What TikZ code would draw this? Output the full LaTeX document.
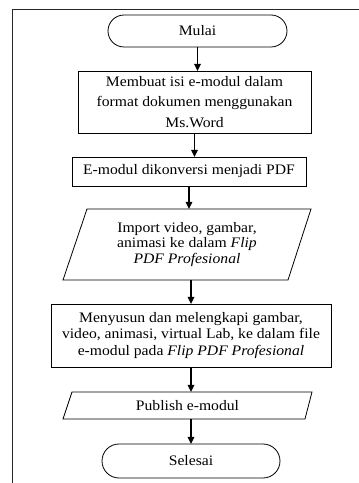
\documentclass[tikz,border=0pt]{standalone}
\usepackage{fontspec}
\setmainfont{Liberation Serif}[FakeStretch=1.08]
\usetikzlibrary{arrows.meta}
\begin{document}
\begin{tikzpicture}[x=1pt,y=1pt,
  txt/.style={inner sep=0pt, outer sep=0pt, align=center, font=\fontsize{14.5}{17}\selectfont},
  box/.style={txt, draw, line width=0.8pt},
  term/.style={box, rounded corners=16pt},
  para/.style={line width=0.8pt},
  arr/.style={line width=1.3pt, -{Triangle[length=7pt,width=6.5pt]}}]
\useasboundingbox (0,0) rectangle (359,483);
\draw[line width=0.9pt, black!85] (12,0) -- (12,474) -- (359,474);

\node[term, minimum width=179pt, minimum height=32pt] (start) at (197.5,452) {Mulai};
\node[box, minimum width=233pt, minimum height=62pt, font=\fontsize{14.5}{20.5}\selectfont] (b1) at (194.5,381)
  {Membuat isi e-modul dalam\\ format dokumen menggunakan\\ Ms.Word};
\node[box, minimum width=234pt, minimum height=29pt] (b2) at (189,311.5) {E-modul dikonversi menjadi PDF};
\node[txt, minimum width=248pt, minimum height=71pt, font=\fontsize{14.5}{15.5}\selectfont] (p1) at (187,238.5)
  {Import video, gambar,\\ animasi ke dalam \textit{Flip}\\ \textit{PDF Profesional}};
\draw[para] ([xshift=24pt]p1.north west) -- (p1.north east) -- ([xshift=-23pt]p1.south east) -- (p1.south west) -- cycle;
\node[box, minimum width=280pt, minimum height=63pt, font=\fontsize{14.5}{16.7}\selectfont] (b4) at (191,147.5)
  {Menyusun dan melengkapi gambar,\\ video, animasi, virtual Lab, ke dalam file\\ e-modul pada \textit{Flip PDF Profesional}};
\node[txt, minimum width=249pt, minimum height=27pt] (p2) at (187.5,77.5) {Publish e-modul};
\draw[para] ([xshift=9pt]p2.north west) -- (p2.north east) -- ([xshift=-7pt]p2.south east) -- (p2.south west) -- cycle;
\node[term, minimum width=178pt, minimum height=34pt, rounded corners=17pt] (stop) at (191,22) {Selesai};

\draw[arr] (start.south) -- (start.south |- b1.north);
\draw[arr] (b1.south) -- (b1.south |- b2.north);
\draw[arr] (b2.south) -- (b2.south |- p1.north);
\draw[arr] (b4.north |- p1.south) -- (b4.north);
\draw[arr] (b4.south) -- (b4.south |- p2.north);
\draw[arr] (stop.north |- p2.south) -- (stop.north);
\end{tikzpicture}
\end{document}
